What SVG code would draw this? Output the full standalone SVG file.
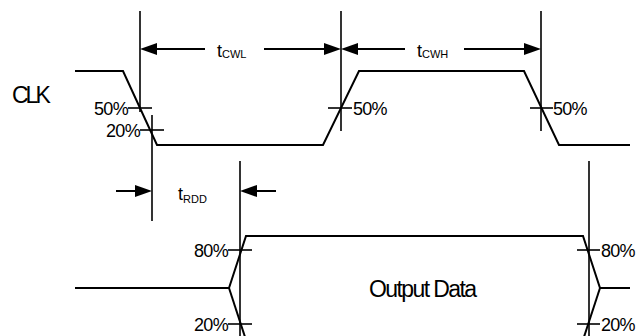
<svg xmlns="http://www.w3.org/2000/svg" width="637" height="336" viewBox="0 0 637 336">
<style>
.w{fill:none;stroke:#000;stroke-width:2;stroke-linejoin:miter}
.v{fill:none;stroke:#000;stroke-width:1.6}
.t{fill:none;stroke:#000;stroke-width:1.6}
.a{fill:none;stroke:#000;stroke-width:2}
.h{fill:#000;stroke:none}
text{font-family:"Liberation Sans",Arial,Helvetica,sans-serif;fill:#000}
.pct{font-size:18px;letter-spacing:-0.7px}
.lbl{font-size:18px}
.sub{font-size:11px}
</style>
<rect width="637" height="336" fill="#fff"/>
<g id="clk-label"><text x="12" y="103" style="font-size:23px;letter-spacing:-3px">CLK</text></g>
<g id="clk-wave">
<polyline class="w" points="75,71 123,71 157,145 323,145 359,71 524,71 559,145 630,145"/>
</g>
<g id="data-wave">
<polyline class="w" points="75,288 229,288 246,236 583,236 600,288 630,288"/>
<polyline class="w" points="229,288 246,340"/>
<polyline class="w" points="600,288 583,340"/>
<text x="369" y="297" style="font-size:23px;letter-spacing:-1.6px">Output Data</text>
</g>
<g id="ref-lines">
<line class="v" x1="140" y1="11" x2="140" y2="112"/>
<line class="v" x1="152" y1="115" x2="152" y2="221"/>
<line class="v" x1="341" y1="11" x2="341" y2="131"/>
<line class="v" x1="541" y1="11" x2="541" y2="131"/>
<line class="v" x1="240" y1="161" x2="240" y2="336"/>
<line class="v" x1="589" y1="161" x2="589" y2="336"/>
</g>
<g id="ticks">
<line class="t" x1="128" y1="108" x2="152" y2="108"/>
<line class="t" x1="140" y1="130" x2="164" y2="130"/>
<line class="t" x1="328" y1="108" x2="352" y2="108"/>
<line class="t" x1="530" y1="108" x2="553" y2="108"/>
<line class="t" x1="228" y1="250" x2="252" y2="250"/>
<line class="t" x1="228" y1="324" x2="252" y2="324"/>
<line class="t" x1="577" y1="250" x2="600" y2="250"/>
<line class="t" x1="577" y1="324" x2="600" y2="324"/>
<text class="pct" x="128" y="115" text-anchor="end">50%</text>
<text class="pct" x="140" y="137" text-anchor="end">20%</text>
<text class="pct" x="353" y="115">50%</text>
<text class="pct" x="553" y="115">50%</text>
<text class="pct" x="228" y="257" text-anchor="end">80%</text>
<text class="pct" x="228" y="331" text-anchor="end">20%</text>
<text class="pct" x="601" y="257">80%</text>
<text class="pct" x="601" y="331">20%</text>
</g>
<g id="connectors">
<line class="a" x1="154" y1="49" x2="205" y2="49"/>
<polygon class="h" points="140,49 157,43 157,55"/>
<line class="a" x1="264" y1="49" x2="327" y2="49"/>
<polygon class="h" points="341,49 324,43 324,55"/>
<line class="a" x1="355" y1="49" x2="405" y2="49"/>
<polygon class="h" points="341,49 358,43 358,55"/>
<line class="a" x1="464" y1="49" x2="527" y2="49"/>
<polygon class="h" points="541,49 524,43 524,55"/>
<line class="a" x1="116" y1="191" x2="138" y2="191"/>
<polygon class="h" points="152,191 135,185 135,197"/>
<line class="a" x1="254" y1="191" x2="276" y2="191"/>
<polygon class="h" points="240,191 257,185 257,197"/>
</g>
<g id="labels">
<text class="lbl" x="217" y="57">t<tspan class="sub" dy="1">CWL</tspan></text>
<text class="lbl" x="417" y="57">t<tspan class="sub" dy="1">CWH</tspan></text>
<text class="lbl" x="178" y="200">t<tspan class="sub" dy="3">RDD</tspan></text>
</g>
</svg>
